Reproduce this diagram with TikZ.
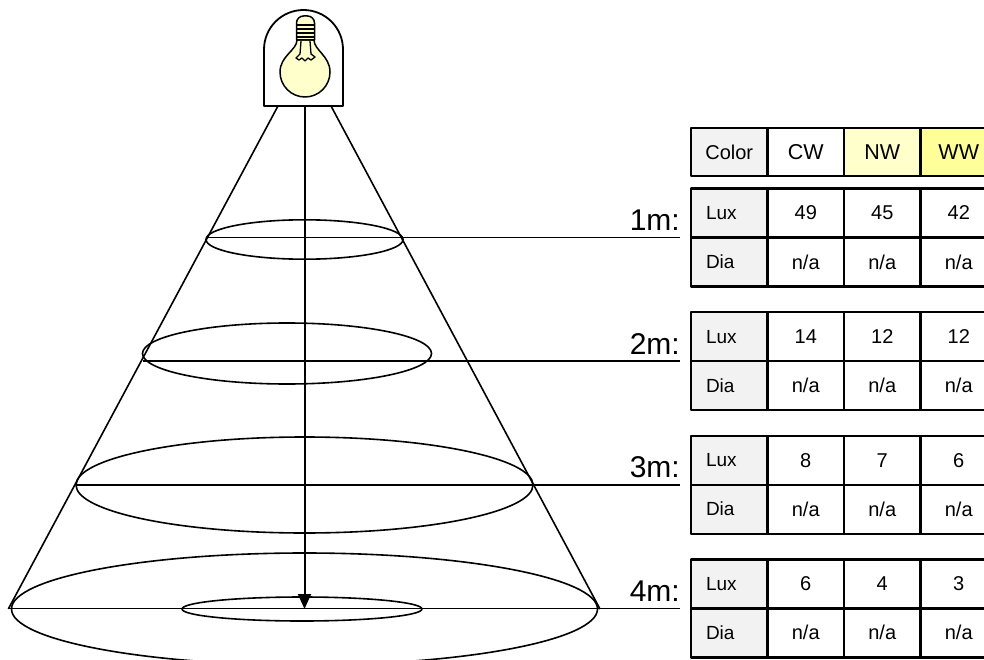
\documentclass[tikz,border=0pt]{standalone}
\usepackage{fontspec}
\setmainfont{Liberation Sans}
\usepackage[svgnames]{xcolor}
\usetikzlibrary{arrows.meta, shapes.geometric, calc}

\definecolor{cellgray}{HTML}{F2F2F2}
\definecolor{nwyellow}{HTML}{FFFFCC}
\definecolor{wwyellow}{HTML}{FFFF99}
\definecolor{bulbyellow}{HTML}{FFFFCC}

\tikzset{
    spot/.style 2 args={ellipse, draw, line width=1.6pt, inner sep=0pt, outer sep=0pt, minimum width=#1pt, minimum height=#2pt},
    cell/.style={draw, line width=2.4pt, inner sep=0pt, minimum width=76.5pt, minimum height=49pt, font=\fontsize{20}{22}\selectfont},
    keycell/.style={cell, fill=cellgray, inner xsep=15pt, text width=46.5pt, align=left, font=\fontsize{19}{21}\selectfont},
    headcell/.style={cell, minimum height=48pt, font=\fontsize{21.5}{23}\selectfont},
    dist/.style={font=\fontsize{30}{32}\selectfont, inner sep=0pt},
}

\begin{document}
\begin{tikzpicture}[x=1pt, y=-1pt, line join=round]
    \useasboundingbox (0,0) rectangle (984,660);
    \clip (0,0) rectangle (984,660);
    % cone of light
    \coordinate (ct1) at (278,106);
    \coordinate (ct2) at (331,106);
    \coordinate (cl) at (8.3,609);
    \coordinate (cr) at (600,609);
    \draw[line width=1.6] (ct1) -- (cl) (ct2) -- (cr);
    % lit areas
    \node[spot={197}{39.4}] (e1) at (304.5,239.5) {};
    \node[spot={289}{61}] (e2) at (287,353.5) {};
    \node[spot={457}{96}] (e3) at (304.5,485) {};
    \node[spot={586}{112}] (e4) at (304.5,609) {};
    \node[spot={240}{24}] (e0) at (302,609) {};
    % axis
    \coordinate (lamp) at (304.5,106);
    \coordinate (floor) at (304.5,609);
    \draw[-{Triangle[length=15pt,width=13pt]}, line width=2] (lamp) -- (floor);
    % housing and bulb
    \draw[line width=1.8, fill=white] (264,106) -- (264,49.5) arc[start angle=180, end angle=360, radius=39.5] -- (343,106) -- cycle;
    \draw[line width=1.5, fill=bulbyellow] (297,40) .. controls (297,50) and (280,56) .. (280,72) arc[start angle=180, end angle=0, radius=25] .. controls (330,56) and (314,50) .. (314,40) -- cycle;
    \draw[line width=1.5, fill=bulbyellow] (296.5,40) [rounded corners=7] -- (296.5,16) -- (314.5,16) [sharp corners] -- (314.5,40) -- cycle;
    \foreach \y in {25,29,33,37} {\draw[line width=1.3] (296.5,\y) -- (314.5,\y);}
    \draw[line width=1.3] (301,41) -- (300,54) -- (296,58) -- (299,60) -- (302,58) -- (305,61) -- (308,58) -- (311,60) -- (315,57) -- (311,54) -- (310,41);
    % header
    \node[headcell, fill=cellgray, font=\fontsize{20}{22}\selectfont] (hcolor) at (729.25,152) {Color};
    \node[headcell, fill=white] (hcw) at (805.75,152) {CW};
    \node[headcell, fill=nwyellow] (hnw) at (882.25,152) {NW};
    \node[headcell, fill=wwyellow] (hww) at (958.75,152) {WW};
    % one table per distance
    \foreach \k/\ty/\a/\b/\c in {1/188.5/49/45/42, 2/312.1/14/12/12, 3/435.7/8/7/6, 4/559.3/6/4/3} {
        \node[keycell] (lux\k) at (729.25,\ty+24.5) {Lux};
        \node[cell] (lux\k-cw) at (805.75,\ty+24.5) {\a};
        \node[cell] (lux\k-nw) at (882.25,\ty+24.5) {\b};
        \node[cell] (lux\k-ww) at (958.75,\ty+24.5) {\c};
        \node[keycell] (dia\k) at (729.25,\ty+73.5) {Dia};
        \foreach \col/\x in {cw/805.75, nw/882.25, ww/958.75} {\node[cell] (dia\k-\col) at (\x,\ty+73.5) {n/a};}
        \coordinate (m\k) at (680,\ty+49);
        \node[dist, anchor=base east] (l\k) at ([yshift=7pt]m\k) {\k m:};
    }
    \foreach \k/\s in {1/e1.west, 2/e2.west, 3/e3.west, 4/cl} {\draw[line width=1.6] (\s |- m\k) -- (m\k);}
\end{tikzpicture}
\end{document}
